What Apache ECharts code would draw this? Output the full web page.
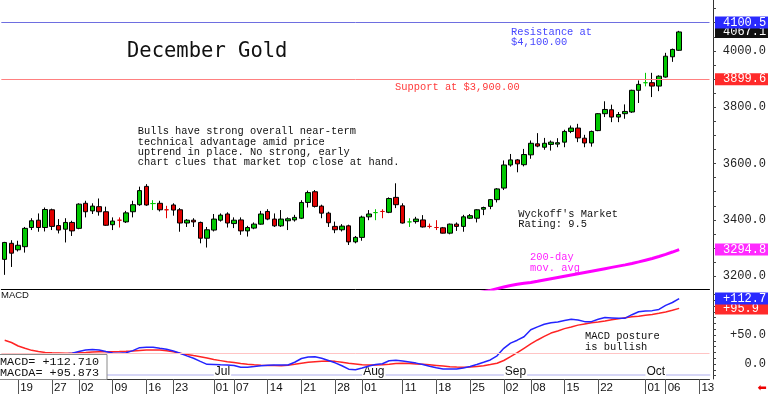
<!DOCTYPE html>
<html>
<head>
<meta charset="utf-8">
<script src="https://cdn.jsdelivr.net/npm/echarts@6/dist/echarts.min.js"></script>
<style>html,body{margin:0;padding:0;background:#fff}#c{width:768px;height:395px}</style>
</head>
<body>
<div id="c"></div>
<script>
// ---------------- DATA ----------------
const dates = [
 '05-15','05-16','05-19','05-20','05-21','05-22','05-23','05-27','05-28','05-29','05-30',
 '06-02','06-03','06-04','06-05','06-06','06-09','06-10','06-11','06-12','06-13',
 '06-16','06-17','06-18','06-20','06-23','06-24','06-25','06-26','06-27','06-30',
 '07-01','07-02','07-03','07-07','07-08','07-09','07-10','07-11','07-14','07-15','07-16','07-17','07-18',
 '07-21','07-22','07-23','07-24','07-25','07-28','07-29','07-30','07-31',
 '08-01','08-04','08-05','08-06','08-07','08-08','08-11','08-12','08-13','08-14','08-15',
 '08-18','08-19','08-20','08-21','08-22','08-25','08-26','08-27','08-28','08-29',
 '09-02','09-03','09-04','09-05','09-08','09-09','09-10','09-11','09-12',
 '09-15','09-16','09-17','09-18','09-19','09-22','09-23','09-24','09-25','09-26','09-29','09-30',
 '10-01','10-02','10-03','10-06','10-07','10-08',
 '10-09','10-10','10-13','10-14'
];
const open = [
 3260,3317,3294,3305,3373,3399,3373,3436,3380,3367,
 3391,3370,3459,3432,3447,3429,3383,3399,3393,3429,
 3454,3519,3458,3459,3436,3453,3436,3389,3399,3391,
 3335,3364,3399,3421,3387,3400,3361,3371,3385,3430,
 3403,3379,3397,3400,3406,3462,3500,3449,3424,3377,
 3365,3379,3322,3338,3411,3426,3430,3427,3480,3450,
 3393,3394,3400,3377,3373,3372,3353,3385,3377,3406,
 3406,3438,3448,3472,3513,3595,3613,3596,3631,3670,
 3658,3668,3669,3676,3714,3726,3690,3673,3717,3777,
 3791,3765,3777,3783,3860,3887,3887,3875,3907,3979,
 4002
];
const close = [
 3320,3282,3310,3370,3397,3373,3437,3377,3364,3391,
 3361,3456,3429,3449,3429,3381,3396,3399,3425,3454,
 3504,3453,3458,3436,3436,3435,3389,3399,3393,3335,
 3365,3403,3417,3389,3399,3361,3373,3385,3421,3403,
 3379,3403,3404,3409,3462,3497,3448,3424,3390,3365,
 3378,3322,3338,3410,3421,3426,3430,3476,3454,3389,
 3393,3403,3375,3377,3373,3353,3385,3377,3411,3415,
 3436,3444,3472,3510,3595,3613,3599,3632,3672,3662,
 3672,3676,3674,3714,3726,3691,3673,3714,3777,3792,
 3765,3774,3785,3860,3881,3887,3875,3910,3981,4005,
 4067.1
];
const low = [
 3205,3233,3288,3284,3364,3358,3359,3364,3352,3320,
 3343,3367,3409,3421,3415,3379,3364,3373,3389,3409,
 3450,3450,3435,3430,3406,3415,3358,3375,3375,3317,
 3302,3359,3394,3373,3371,3347,3341,3367,3383,3399,
 3375,3375,3364,3394,3403,3444,3444,3406,3375,3353,
 3359,3311,3317,3326,3399,3399,3406,3424,3442,3387,
 3375,3387,3373,3370,3364,3352,3349,3361,3358,3403,
 3391,3417,3438,3462,3506,3589,3569,3590,3617,3658,
 3649,3646,3658,3658,3708,3676,3658,3660,3715,3765,
 3747,3747,3759,3780,3815,3874,3836,3857,3905,3961,
 4000
];
const high = [
 3322,3328,3326,3375,3406,3423,3444,3440,3403,3406,
 3397,3459,3468,3459,3476,3447,3409,3409,3432,3468,
 3518,3527,3470,3468,3450,3459,3442,3403,3406,3394,
 3375,3421,3423,3427,3409,3409,3379,3391,3432,3438,
 3423,3435,3409,3418,3470,3504,3506,3454,3429,3394,
 3385,3383,3343,3415,3435,3438,3438,3480,3530,3459,
 3406,3411,3417,3387,3399,3375,3387,3391,3418,3421,
 3438,3447,3474,3513,3611,3634,3616,3652,3682,3708,
 3691,3682,3690,3720,3735,3741,3702,3717,3779,3821,
 3809,3783,3810,3862,3895,3922,3922,3913,3993,4008,
 4071
];
// colour of the doji crosses (open == close)
const dojiColor = {17:'down',22:'up',24:'down',55:'up',56:'down',60:'up',63:'down',64:'down',95:'up'};

const ma200 = Array(70).fill(null).concat([
 3140,3145,3150,3156,3162,3167.5,3172,3175,3178,3182,
 3186.5,3191,3195.5,3200,3204.5,3209,3213.5,3218,3222.5,3227,
 3231.5,3236,3240.5,3245.5,3251,3257,3263,3270,3277.5,3286,
 3294.8
]);

const macd = [
 17,15,14,14,15.5,17,17.3,17,16.8,17.3,
 18.5,21.5,24.2,25,24.2,21.5,19,18.4,19.5,23,
 28.2,28.8,28.8,27,25.3,22.5,18.4,14,9.8,4.5,
 -0.6,-1,-1.5,-1.7,-2.5,-5.5,-5.7,-4.5,-3,-2.3,
 -1.7,-1.7,-1.7,3,9.5,12,12.6,10,6,2,
 -3,-9,-10,-7,-3.5,-1,0.5,5.5,6.5,5,
 3.5,1.5,-1,-4,-6.5,-8.5,-8.8,-8.6,-7,-4.5,
 -1,2.9,7,14,27,36,41,47,59,64,
 68.4,71,72.5,75,77,76,73,73,77,80,
 79.5,78.7,79,85,90,91.4,92,94,101,106,
 112.710
];
const macdAvg = [
 41,37,31,27,23.5,21.5,20,19.2,18.8,18.4,
 18.6,19.2,19.8,20.5,21.2,21.3,21.3,21.4,21.8,22.4,
 23.2,24,24.3,24,23,21,18.4,16.5,14.5,12.6,
 10.2,7.6,5.8,3.8,2.4,1,-0.3,-1.2,-2,-2.5,
 -2.8,-2.9,-2,-0.5,1.2,2.8,4,4.8,5.2,4.5,
 3,1.2,0,-1.2,-1.8,-1.6,-1.5,-0.5,0.8,1.2,
 0.8,0,-0.6,-1.5,-2.5,-3.5,-4.6,-5.3,-5.7,-5.3,
 -4.2,-2.9,-1,1.2,6,12.6,19.5,27,34.5,41.4,
 47.5,53.3,57,61,63.8,67,69,71,72.5,74.2,
 76.2,77.8,79.8,81.3,82.5,84,85.5,87.5,89.7,92.5,
 95.873
];
const macdRefLevel = 18.4;

const tickDates = ['05-19','05-27','06-02','06-09','06-16','06-23','07-01','07-07','07-14','07-21','07-28',
 '08-01','08-11','08-18','08-25','09-02','09-08','09-15','09-22','10-01','10-06','10-13'];
const monthStarts = ['07-01','08-01','09-02','10-01'];
const monthNames = ['Jul','Aug','Sep','Oct'];
const priceLabels = [3200,3400,3600,3800,4000];
const macdLabels = [0,50];
const resistance = 4100.5;
const support = 3899.6;

const titleText = 'December Gold';
const noteText = ['Bulls have strong overall near-term','technical advantage amid price','uptrend in place. No strong, early','chart clues that market top close at hand.'];
const resistText = ['Resistance at','$4,100.00'];
const supportText = 'Support at $3,900.00';
const ratingText = ["Wyckoff's Market",'Rating: 9.5'];
const maText = ['200-day','mov. avg'];
const macdNote = ['MACD posture','is bullish'];

// ---------------- CHART ----------------
const MONO = '"Liberation Mono", "DejaVu Sans Mono", monospace';
const SANS = '"Liberation Sans", Arial, sans-serif';
const UP = '#00c800', DOWN = '#e00000';
const last = close.length - 1;
const tickSet = new Set(tickDates);
const monthMap = new Map(monthStarts.map((d, i) => [d, monthNames[i]]));

const candleData = open.map((o, i) => {
  const item = { value: [o, close[i], low[i], high[i]] };
  if (dojiColor[i]) {
    const c = dojiColor[i] === 'up' ? UP : DOWN;
    item.itemStyle = { borderColor: c, borderColor0: c, borderColorDoji: c };
  }
  return item;
});

function badge(text, bg) {
  return {
    show: true, position: 'end', distance: 5.5, formatter: text,
    color: '#fff', backgroundColor: bg, opacity: 1,
    padding: [0, 0, 0, 8], width: 45, height: 12, lineHeight: 12,
    fontFamily: MONO, fontSize: 12
  };
}
const hidden = { color: 'rgba(0,0,0,0)', width: 0.01 };

const priceTicks = [];
for (let v = 3200; v <= 4150; v += 50) priceTicks.push(v);
const macdTicks = [];
for (let v = -20; v <= 120; v += 10) macdTicks.push(v);

const GL = 1.33, GR = 58.5, AXOFF = 3.5;

const option = {
  animation: false,
  backgroundColor: '#fff',
  grid: [
    { left: GL, right: GR, top: 0, height: 289, outerBoundsMode: 'none', containLabel: false },
    { left: GL, right: GR, top: 289, height: 90, outerBoundsMode: 'none', containLabel: false }
  ],
  xAxis: [
    { gridIndex: 0, type: 'category', data: dates, boundaryGap: true,
      axisLine: { show: true, onZero: false, lineStyle: { color: '#000', width: 1 } },
      axisTick: { show: false }, axisLabel: { show: false }, splitLine: { show: false } },
    { gridIndex: 1, type: 'category', data: dates, boundaryGap: true, position: 'bottom',
      axisLine: { show: true, onZero: false, lineStyle: { color: '#333', width: 1 } },
      axisTick: { show: true, alignWithLabel: true, length: 15, interval: (i, v) => tickSet.has(v),
        lineStyle: { color: '#555', width: 1 } },
      axisLabel: { show: true, interval: (i, v) => tickSet.has(v), formatter: v => v.slice(3),
        align: 'left', margin: 3, padding: [0, 0, 0, 2], fontSize: 11.5, fontFamily: SANS, color: '#111' },
      splitLine: { show: false } },
    { gridIndex: 1, type: 'category', data: dates, boundaryGap: true, position: 'bottom', offset: -4,
      axisLine: { show: true, onZero: false, lineStyle: { color: '#d6d6f6', width: 2 } },
      axisTick: { show: false },
      axisLabel: { show: true, inside: true, interval: (i, v) => monthMap.has(v), formatter: v => monthMap.get(v),
        align: 'left', margin: -4, backgroundColor: '#fff', padding: [0, 1, 1, 1], lineHeight: 12,
        fontSize: 12, fontFamily: SANS, color: '#111' },
      splitLine: { show: false } }
  ],
  yAxis: [
    { gridIndex: 0, type: 'value', position: 'right', offset: AXOFF, min: 3154.8, max: 4180.5,
      axisLine: { show: true, onZero: false, lineStyle: { color: '#333' } },
      axisTick: { show: true, customValues: priceTicks, length: 3, lineStyle: { color: '#444' } },
      axisLabel: { show: true, customValues: priceLabels, formatter: v => v.toFixed(1), align: 'right',
        margin: 53, fontFamily: MONO, fontSize: 12, color: '#222' },
      splitLine: { show: false } },
    { gridIndex: 1, type: 'value', position: 'right', offset: AXOFF, min: -25.9, max: 129.3,
      axisLine: { show: true, onZero: false, lineStyle: { color: '#333' } },
      axisTick: { show: true, customValues: macdTicks, length: 3, lineStyle: { color: '#444' } },
      axisLabel: { show: true, customValues: macdLabels, formatter: v => (v > 0 ? '+' : '') + v.toFixed(1),
        align: 'right', margin: 53, fontFamily: MONO, fontSize: 12, color: '#222' },
      splitLine: { show: false } }
  ],
  series: [
    { type: 'candlestick', xAxisIndex: 0, yAxisIndex: 0, data: candleData, barWidth: 5,
      itemStyle: { color: UP, color0: DOWN, borderColor: '#000', borderColor0: '#000', borderColorDoji: '#000', borderWidth: 1 },
      emphasis: { disabled: true },
      markLine: { silent: true, symbol: ['none', 'none'], animation: false,
        data: [
          { yAxis: close[last], lineStyle: hidden, label: badge(close[last].toFixed(1), '#111') },
          { yAxis: support, lineStyle: { color: '#ff8080', width: 1, type: 'solid', opacity: 1 }, label: badge(support.toFixed(1), '#ff2a2a') },
          { yAxis: resistance, lineStyle: { color: '#6e6ee0', width: 1, type: 'solid', opacity: 1 }, label: badge(resistance.toFixed(1), '#2a2aff') }
        ] } },
    { type: 'line', xAxisIndex: 0, yAxisIndex: 0, data: ma200, showSymbol: false, symbol: 'none',
      lineStyle: { color: '#ff00ff', width: 3 }, itemStyle: { color: '#ff00ff' }, clip: true, emphasis: { disabled: true },
      markLine: { silent: true, symbol: ['none', 'none'], animation: false,
        data: [{ yAxis: ma200[last], lineStyle: hidden, label: badge(ma200[last].toFixed(1), '#ff2aff') }] } },
    { type: 'line', xAxisIndex: 1, yAxisIndex: 1, data: macdAvg, showSymbol: false, symbol: 'none', z: 2,
      lineStyle: { color: '#ff2424', width: 1.5 }, itemStyle: { color: '#ff2424' }, emphasis: { disabled: true },
      markLine: { silent: true, symbol: ['none', 'none'], animation: false,
        data: [
          { yAxis: macdRefLevel, lineStyle: { color: '#ffc4c4', width: 1, type: 'solid' }, label: { show: false } },
          { yAxis: macdAvg[last], lineStyle: hidden, label: badge('+' + macdAvg[last].toFixed(1), '#ff2a2a') }
        ] } },
    { type: 'line', xAxisIndex: 1, yAxisIndex: 1, data: macd, showSymbol: false, symbol: 'none', z: 3,
      lineStyle: { color: '#2424ff', width: 1.5 }, itemStyle: { color: '#2424ff' }, emphasis: { disabled: true },
      markLine: { silent: true, symbol: ['none', 'none'], animation: false,
        data: [{ yAxis: macd[last], lineStyle: hidden, label: badge('+' + macd[last].toFixed(1), '#2a2aff') }] } }
  ],
  graphic: [
    { type: 'text', x: 127, y: 52, z: 50, style: { text: titleText, font: '20.5px "DejaVu Sans Mono"', fill: '#111', verticalAlign: 'middle' } },
    { type: 'text', x: 137.7, y: 126.5, z: 50, style: { text: noteText.join('\n'), font: '10.4px ' + MONO, lineHeight: 10.33, fill: '#111', verticalAlign: 'top' } },
    { type: 'text', x: 511, y: 26.9, z: 50, style: { text: resistText.join('\n'), font: '10.4px ' + MONO, lineHeight: 10.33, fill: '#4646ff', verticalAlign: 'top' } },
    { type: 'text', x: 395, y: 81.9, z: 50, style: { text: supportText, font: '10.4px ' + MONO, lineHeight: 10.33, fill: '#ff3a3a', verticalAlign: 'top' } },
    { type: 'text', x: 518.3, y: 208.9, z: 50, style: { text: ratingText.join('\n'), font: '10.4px ' + MONO, lineHeight: 10.33, fill: '#111', verticalAlign: 'top' } },
    { type: 'text', x: 530, y: 252.3, z: 50, style: { text: maText.join('\n'), font: '10.4px ' + MONO, lineHeight: 10.33, fill: '#ff22ff', verticalAlign: 'top' } },
    { type: 'text', x: 585, y: 331.5, z: 50, style: { text: macdNote.join('\n'), font: '10.4px ' + MONO, lineHeight: 10.33, fill: '#111', verticalAlign: 'top' } },
    { type: 'text', x: 1, y: 295.5, z: 50, style: { text: 'MACD', font: '9.5px ' + SANS, fill: '#111', verticalAlign: 'middle' } },
    { type: 'rect', z: 100, shape: { x: -1, y: 354.5, width: 108, height: 25 }, style: { fill: '#fff', stroke: '#8a8a8a', lineWidth: 1 } },
    { type: 'text', x: 0, y: 362.3, z: 101, style: { text: 'MACD= +' + macd[last].toFixed(3), font: '11.8px ' + MONO, fill: '#111', verticalAlign: 'middle' } },
    { type: 'text', x: 0, y: 373.3, z: 101, style: { text: 'MACDA= +' + macdAvg[last].toFixed(3), font: '11.8px ' + MONO, fill: '#111', verticalAlign: 'middle' } },
    { type: 'text', x: 762, y: 388, z: 50, style: { text: '\u2B05', font: '11px "DejaVu Sans"', fill: '#ee0000', align: 'center', verticalAlign: 'middle' } }
  ]
};

const chart = echarts.init(document.getElementById('c'), null, { renderer: 'canvas', width: 768, height: 395 });
chart.setOption(option);
</script>
</body>
</html>
